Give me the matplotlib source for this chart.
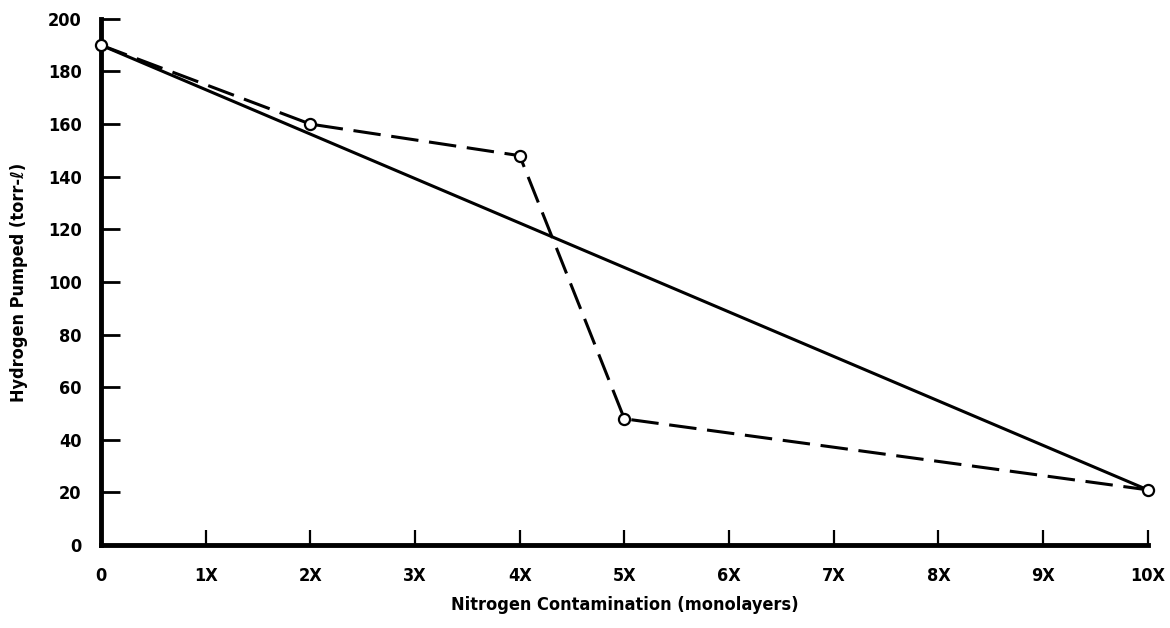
import matplotlib.pyplot as plt

# measured points (dashed curve) and the straight trend line
contamination = [0, 2, 4, 5, 10]
hydrogen_pumped = [190, 160, 148, 48, 21]
trend_x = [0, 10]
trend_y = [190, 21]

x_ticks = list(range(11))
x_tick_labels = ["0"] + [f"{i}X" for i in range(1, 11)]
y_ticks = list(range(0, 201, 20))

plt.rcParams["font.family"] = ["DejaVu Sans"]
plt.rcParams["font.stretch"] = "condensed"
plt.rcParams["font.weight"] = "bold"
plt.rcParams["axes.labelweight"] = "bold"

fig = plt.figure(figsize=(11.7, 6.28), dpi=100)
ax = fig.add_axes([0.0863, 0.132, 0.8947, 0.838])

ax.plot(trend_x, trend_y, color="black", linewidth=2.2, clip_on=False)
ax.plot(contamination, hydrogen_pumped, color="black", linewidth=2.2,
        linestyle=(0, (9, 3.5)), marker="o", markersize=8,
        markerfacecolor="white", markeredgecolor="black", markeredgewidth=1.6,
        clip_on=False, zorder=3)

ax.set_xlim(0, 10)
ax.set_ylim(0, 200)
ax.set_xticks(x_ticks)
ax.set_xticklabels(x_tick_labels)
ax.set_yticks(y_ticks)

for side in ("top", "right"):
    ax.spines[side].set_visible(False)
for side in ("left", "bottom"):
    ax.spines[side].set_linewidth(3.5)

ax.tick_params(axis="y", direction="in", length=14, width=2, pad=14, labelsize=13)
ax.tick_params(axis="x", direction="in", length=11, width=1.6, pad=16, labelsize=13)

ax.set_xlabel("Nitrogen Contamination (monolayers)", fontsize=13, labelpad=8)
ax.set_ylabel("Hydrogen Pumped (torr-\u2113)", fontsize=13, labelpad=14)

fig.savefig("out.png", dpi=100)
